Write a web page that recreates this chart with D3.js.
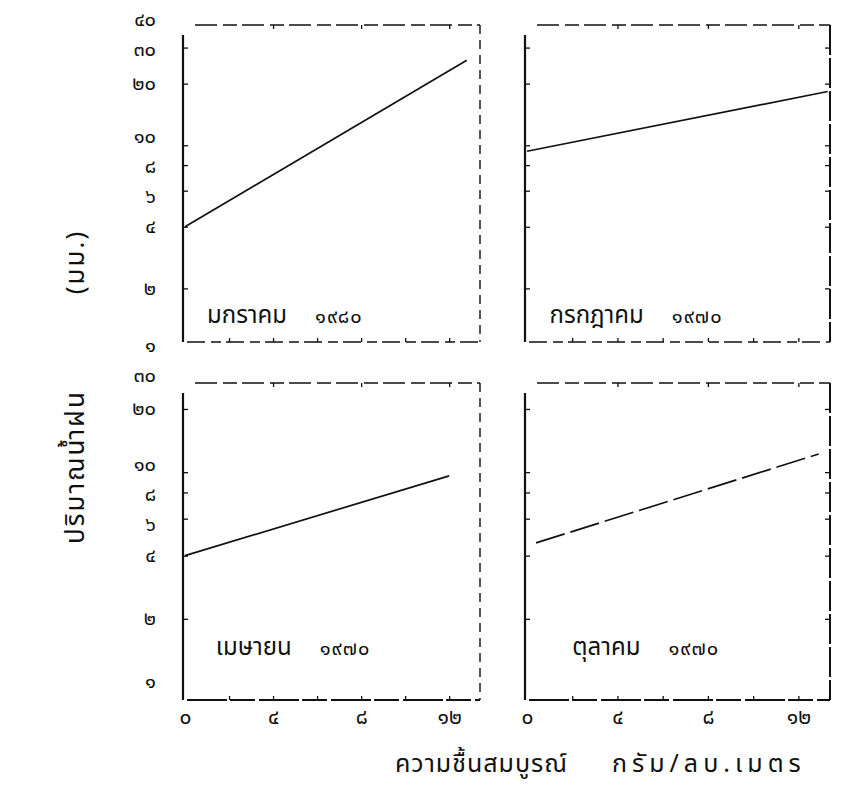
<!DOCTYPE html>
<html>
<head>
<meta charset="utf-8">
<script src="https://cdn.jsdelivr.net/npm/d3@7"></script>
<style>
  body { margin: 0; background: #fff; }
  text { font-family: "Noto Sans Thai", "Loma", "Garuda", "DejaVu Sans", sans-serif; fill: #111; }
</style>
</head>
<body>
<svg id="chart" width="843" height="802"></svg>
<script>

// panel titles (month, year)
const panelMonths = ['มกราคม', 'กรกฎาคม', 'เมษายน', 'ตุลาคม'];
const panelYears = [1980, 1970, 1970, 1970];

// regression line end points: x = humidity (g/m3), y = rainfall (mm)
const lineStartX = [0, 0, 0, 0.4];
const lineStartY = [4.0, 9.35, 4.0, 4.6];
const lineEndX = [12.8, 13.3, 12.0, 12.9];
const lineEndY = [26, 18.3, 9.6, 12.2];

// tick values
const yTicksTop = [1, 2, 4, 6, 8, 10, 20, 30, 40];
const yTicksBottom = [1, 2, 4, 6, 8, 10, 20, 30];
const xTicks = [0, 4, 8, 12];

const yTitle = 'ปริมาณน้ำฝน';
const yUnit = '(มม.)';
const xTitle = 'ความชื้นสมบูรณ์';
const xUnit = 'กรัม/ลบ.เมตร';


const THAI_DIGITS = '๐๑๒๓๔๕๖๗๘๙';

/**
 * Write a number with Thai digits.
 * @param {Number} n
 * @returns {String}
 */
function thaiNum(n) {

  return String(n).replace(/[0-9]/g, c => THAI_DIGITS[+c]);
}


/**
 * Push apart labels that sit closer than minGap (typed labels never overlap).
 * @param {Object[]} items - {y}
 * @param {Number} minGap
 * @returns {Object[]}
 */
function relax(items, minGap) {

  items.sort((a, b) => a.y - b.y);
  for (let pass = 0; pass < 60; pass++) {
    let moved = false;
    for (let i = 1; i < items.length; i++) {
      const gap = items[i].y - items[i - 1].y;
      if (gap < minGap - 0.01) {
        const d = (minGap - gap) / 2;
        items[i - 1].y -= d;
        items[i].y += d;
        moved = true;
      }
    }
    if (!moved) break;
  }
  return items;
}


/**
 * @class
 */
class Panel {


  /**
   * @constructor
   * @param {Object} box - frame left, right, top, bottom
   * @param {d3.ScaleLogarithmic} yScale
   * @param {Number[]} yTicks
   */
  constructor(box, yScale, yTicks) {

    this._box = box;
    this._y = yScale;
    this._yTicks = yTicks;
    this._x = d3.scaleLinear()
      .domain([0, 13.4])
      .range([box.left + 2, box.right]);
  }


  /**
   * @param {Number} i - panel index
   * @returns {Panel}
   */
  setData(i) {

    this._line = [
      {x: lineStartX[i], y: lineStartY[i]},
      {x: lineEndX[i], y: lineEndY[i]}
    ];
    this._month = panelMonths[i];
    this._year = thaiNum(panelYears[i]);
    return this;
  }


  /**
   * @param {d3.Selection} svg
   * @param {Object} opts
   * @returns {Panel}
   */
  renderTo(svg, opts) {

    const b = this._box;
    const g = svg.append('g').attr('class', 'panel');

    // frame: solid left axis, typed dashes elsewhere
    g.append('line')
      .attr('x1', b.left).attr('x2', b.left)
      .attr('y1', b.top + 10).attr('y2', b.bottom)
      .attr('stroke', '#111').attr('stroke-width', 2.2);

    g.append('line')
      .attr('x1', b.left + 12).attr('x2', b.right)
      .attr('y1', b.top).attr('y2', b.top)
      .attr('stroke', '#111').attr('stroke-width', 1.4)
      .attr('stroke-dasharray', '22 6 14 5');

    g.append('line')
      .attr('x1', b.left + 4).attr('x2', b.right)
      .attr('y1', b.bottom).attr('y2', b.bottom)
      .attr('stroke', '#111').attr('stroke-width', opts.bottomRow ? 1.8 : 1.4)
      .attr('stroke-dasharray', opts.bottomRow ? '40 3 25 4' : '18 6 10 5');

    g.append('line')
      .attr('x1', b.right).attr('x2', b.right)
      .attr('y1', b.top).attr('y2', b.bottom)
      .attr('stroke', '#111').attr('stroke-width', opts.rightCol ? 2 : 1.4)
      .attr('stroke-dasharray', opts.rightCol ? '30 3' : '9 6');

    // inward ticks
    g.append('g')
      .attr('transform', `translate(${b.left},0)`)
      .call(d3.axisRight(this._y).tickValues(this._yTicks.slice(1, -1)).tickSize(5).tickFormat(''))
      .call(a => a.select('.domain').remove());

    if (opts.rightCol) {
      g.append('g')
        .attr('transform', `translate(${b.right},0)`)
        .call(d3.axisLeft(this._y).tickValues(this._yTicks.slice(1, -1)).tickSize(5).tickFormat(''))
        .call(a => a.select('.domain').remove());
    }

    g.append('g')
      .attr('transform', `translate(0,${b.bottom})`)
      .call(d3.axisTop(this._x).tickValues([2, 4, 6, 8, 10, 12]).tickSize(4).tickFormat(''))
      .call(a => a.select('.domain').remove());

    g.append('g')
      .attr('transform', `translate(0,${b.top})`)
      .call(d3.axisBottom(this._x).tickValues([4, 8, 12]).tickSize(4).tickFormat(''))
      .call(a => a.select('.domain').remove());

    g.selectAll('.tick line').attr('stroke', '#111').attr('stroke-width', 1.3);

    if (opts.bottomRow) {
      g.append('g')
        .attr('transform', `translate(0,${b.bottom})`)
        .call(d3.axisBottom(this._x).tickValues(xTicks).tickSize(0).tickPadding(9).tickFormat(thaiNum))
        .call(a => a.select('.domain').remove())
        .selectAll('text')
        .style('font-size', '21px');
    }

    // regression line
    const line = d3.line()
      .x(d => this._x(d.x))
      .y(d => this._y(d.y));

    g.append('path')
      .datum(this._line)
      .attr('d', line)
      .attr('fill', 'none')
      .attr('stroke', '#111')
      .attr('stroke-width', 1.7)
      .attr('stroke-dasharray', opts.dashed ? '30 6' : null);

    // panel title
    const title = g.append('text')
      .attr('x', this._x(opts.titleX))
      .attr('y', this._y(1.35))
      .style('font-size', '24px');
    title.append('tspan').text(this._month);
    title.append('tspan').attr('dx', 28).style('font-size', '20px')
      .style('letter-spacing', '1px').text(this._year);

    return this;
  }
}


const svg = d3.select('#chart');

const yTop = d3.scaleLog().domain([1, 40]).range([350, 22]);
const yBottom = d3.scaleLog().domain([1, 30]).range([682, 372]);

const boxes = [
  {left: 183, right: 480, top: 25, bottom: 342},
  {left: 525, right: 830, top: 25, bottom: 342},
  {left: 183, right: 480, top: 383, bottom: 700},
  {left: 525, right: 830, top: 383, bottom: 700}
];
const titleX = [1, 1, 1.4, 2];

boxes.forEach((box, i) => {
  const bottomRow = i > 1;
  new Panel(box, bottomRow ? yBottom : yTop, bottomRow ? yTicksBottom : yTicksTop)
    .setData(i)
    .renderTo(svg, {bottomRow: bottomRow, rightCol: i % 2 === 1, dashed: i === 3, titleX: titleX[i]});
});

// y tick labels of the left column, both rows together
const yLabels = relax(
  yTicksTop.map(v => ({v: v, y: yTop(v)}))
    .concat(yTicksBottom.map(v => ({v: v, y: yBottom(v)}))),
  30
);

svg.append('g')
  .attr('class', 'y-labels')
  .selectAll('text')
  .data(yLabels)
  .join('text')
  .attr('x', 156)
  .attr('y', d => d.y)
  .attr('dy', '0.32em')
  .attr('text-anchor', 'end')
  .style('font-size', '20px')
  .text(d => thaiNum(d.v));

// axis titles
svg.append('text')
  .attr('transform', 'translate(84,467) rotate(-90)')
  .attr('text-anchor', 'middle')
  .style('font-size', '26px')
  .style('letter-spacing', '2px')
  .text(yTitle);

svg.append('text')
  .attr('transform', 'translate(84,262) rotate(-90)')
  .attr('text-anchor', 'middle')
  .style('font-size', '26px')
  .style('letter-spacing', '2px')
  .text(yUnit);

svg.append('text')
  .attr('x', 395)
  .attr('y', 772)
  .style('font-size', '25px')
  .style('letter-spacing', '1px')
  .text(xTitle);

svg.append('text')
  .attr('x', 612)
  .attr('y', 772)
  .style('font-size', '25px')
  .style('letter-spacing', '5px')
  .text(xUnit);

</script>
</body>
</html>
